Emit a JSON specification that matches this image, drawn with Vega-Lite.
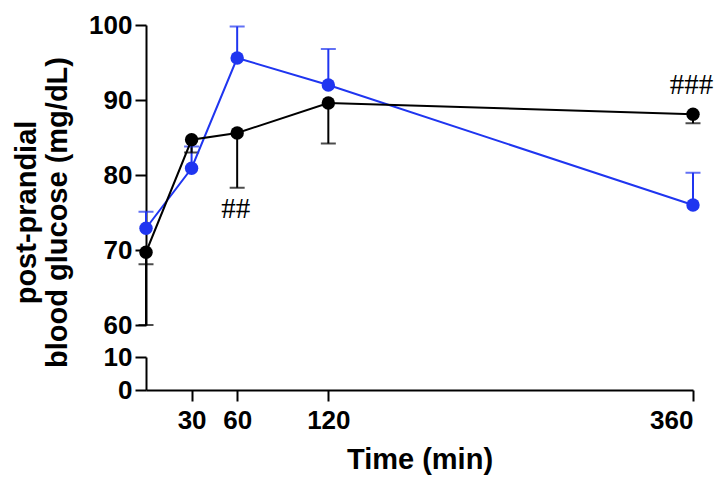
{
  "$schema": "https://vega.github.io/schema/vega-lite/v6.json",
  "padding": {"left": 11, "top": 12, "right": 5, "bottom": 5},
  "background": "white",
  "bounds": "flush",
  "spacing": 32,
  "datasets": {
    "means": [
      {"group": "blue", "time": 0, "glucose": 72.9},
      {"group": "blue", "time": 30, "glucose": 80.9},
      {"group": "blue", "time": 60, "glucose": 95.6},
      {"group": "blue", "time": 120, "glucose": 92.0},
      {"group": "blue", "time": 360, "glucose": 76.0},
      {"group": "black", "time": 0, "glucose": 69.7},
      {"group": "black", "time": 30, "glucose": 84.7},
      {"group": "black", "time": 60, "glucose": 85.6},
      {"group": "black", "time": 120, "glucose": 89.6},
      {"group": "black", "time": 360, "glucose": 88.1}
    ],
    "errors": [
      {"group": "blue", "time": 0, "lo": 72.9, "hi": 75.1},
      {"group": "blue", "time": 30, "lo": 80.9, "hi": 83.8},
      {"group": "blue", "time": 60, "lo": 95.6, "hi": 99.8},
      {"group": "blue", "time": 120, "lo": 92.0, "hi": 96.8},
      {"group": "blue", "time": 360, "lo": 76.0, "hi": 80.3},
      {"group": "black", "time": 0, "lo": 60.0, "hi": 69.7},
      {"group": "black", "time": 30, "lo": 83.0, "hi": 84.7},
      {"group": "black", "time": 60, "lo": 78.3, "hi": 85.6},
      {"group": "black", "time": 120, "lo": 84.2, "hi": 89.6},
      {"group": "black", "time": 360, "lo": 86.9, "hi": 88.1}
    ],
    "caps": [
      {"group": "blue", "time": 0, "glucose": 75.1},
      {"group": "blue", "time": 30, "glucose": 83.8},
      {"group": "blue", "time": 60, "glucose": 99.8},
      {"group": "blue", "time": 120, "glucose": 96.8},
      {"group": "blue", "time": 360, "glucose": 80.3},
      {"group": "black", "time": 0, "glucose": 60.0},
      {"group": "black", "time": 0, "glucose": 68.1},
      {"group": "black", "time": 30, "glucose": 83.0},
      {"group": "black", "time": 60, "glucose": 78.3},
      {"group": "black", "time": 120, "glucose": 84.2},
      {"group": "black", "time": 360, "glucose": 86.9}
    ],
    "notes": [
      {"time": 59, "glucose": 75.5, "label": "##"},
      {"time": 359, "glucose": 92.0, "label": "###"}
    ]
  },
  "vconcat": [
    {
      "width": 547,
      "height": 300,
      "layer": [
        {
          "data": {"name": "errors"},
          "mark": {"type": "rule", "strokeWidth": 2},
          "encoding": {
            "x": {"field": "time", "type": "quantitative", "scale": {"domain": [0, 360], "nice": false}, "axis": null},
            "y": {"field": "lo", "type": "quantitative", "scale": {"domain": [60, 100], "nice": false, "zero": false}, "axis": {"values": [60, 70, 80, 90, 100], "title": ["post-prandial", "blood glucose (mg/dL)"], "titleX": -120, "titleY": 187, "titleAngle": -90, "titleBaseline": "middle", "titleAlign": "center", "titleLineHeight": 31, "labelPadding": 3}},
            "y2": {"field": "hi"},
            "color": {"field": "group", "type": "nominal", "scale": {"domain": ["black", "blue"], "range": ["#000000", "#1f35f0"]}, "legend": null}
          }
        },
        {
          "data": {"name": "caps"},
          "mark": {"type": "tick", "orient": "horizontal", "size": 15, "thickness": 2},
          "encoding": {
            "x": {"field": "time", "type": "quantitative"},
            "y": {"field": "glucose", "type": "quantitative"},
            "color": {"field": "group", "type": "nominal"}
          }
        },
        {
          "data": {"name": "means"},
          "mark": {"type": "line", "strokeWidth": 2},
          "encoding": {
            "x": {"field": "time", "type": "quantitative"},
            "y": {"field": "glucose", "type": "quantitative"},
            "color": {"field": "group", "type": "nominal"}
          }
        },
        {
          "data": {"name": "means"},
          "mark": {"type": "point", "filled": true, "size": 180, "opacity": 1},
          "encoding": {
            "x": {"field": "time", "type": "quantitative"},
            "y": {"field": "glucose", "type": "quantitative"},
            "color": {"field": "group", "type": "nominal"}
          }
        },
        {
          "data": {"name": "notes"},
          "mark": {"type": "text", "font": "Liberation Serif", "fontSize": 29, "color": "#000000", "baseline": "middle", "align": "center"},
          "encoding": {
            "x": {"field": "time", "type": "quantitative"},
            "y": {"field": "glucose", "type": "quantitative"},
            "text": {"field": "label"}
          }
        }
      ]
    },
    {
      "width": 547,
      "height": 33,
      "data": {"name": "means"},
      "mark": {"type": "point", "opacity": 0},
      "encoding": {
        "x": {"field": "time", "type": "quantitative", "scale": {"domain": [0, 360], "nice": false}, "axis": {"values": [30, 60, 120, 360], "title": "Time (min)", "labelPadding": 6, "titleY": 78, "titleBaseline": "alphabetic"}},
        "y": {"datum": 0, "type": "quantitative", "scale": {"domain": [0, 10], "nice": false}, "axis": {"values": [0, 10], "title": null, "labelPadding": 3}}
      }
    }
  ],
  "resolve": {"scale": {"y": "independent", "color": "shared"}},
  "config": {
    "view": {"stroke": null},
    "axis": {
      "grid": false,
      "domainColor": "#000000",
      "domainWidth": 2,
      "tickColor": "#000000",
      "tickWidth": 2,
      "tickSize": 11,
      "labelFont": "Liberation Sans",
      "labelFontWeight": "bold",
      "labelFontSize": 26,
      "labelColor": "#000000",
      "titleFont": "Liberation Sans",
      "titleFontWeight": "bold",
      "titleFontSize": 29,
      "titleColor": "#000000"
    }
  }
}
